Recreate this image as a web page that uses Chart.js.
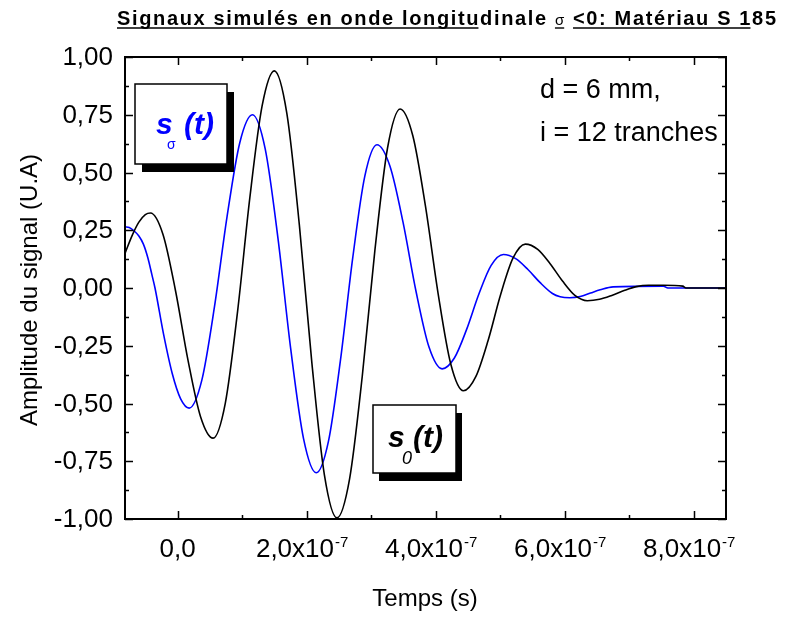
<!DOCTYPE html>
<html>
<head>
<meta charset="utf-8">
<script src="https://cdn.jsdelivr.net/npm/chart.js@4.4.1/dist/chart.umd.min.js"></script>
<style>
  html, body { margin: 0; padding: 0; background: #ffffff; }
  #wrap { width: 785px; height: 619px; }
</style>
</head>
<body>
<div id="wrap"><canvas id="c" width="785" height="619"></canvas></div>
<script>
// Temps en unités de 1e-7 s, amplitude en U.A.
const tempsS0 = [-0.815,-0.70,-0.60,-0.50,-0.42,-0.226,-0.032,0.162,0.356,0.55,0.74,0.93,1.12,1.31,1.50,1.694,1.888,2.082,2.276,2.47,2.666,2.862,3.058,3.254,3.45,3.646,3.842,4.038,4.234,4.43,4.622,4.814,5.006,5.198,5.39,5.582,5.774,5.966,6.158,6.35,6.54,6.73,6.92,7.11,7.30,7.53,7.83,7.88,8.50];
const signalS0 = [0.150,0.230,0.285,0.318,0.325,0.232,-0.012,-0.313,-0.557,-0.650,-0.498,-0.101,0.391,0.788,0.940,0.755,0.271,-0.326,-0.810,-0.995,-0.826,-0.383,0.163,0.606,0.775,0.659,0.354,-0.024,-0.329,-0.445,-0.384,-0.226,-0.029,0.129,0.190,0.167,0.105,0.030,-0.032,-0.055,-0.049,-0.032,-0.011,0.006,0.012,0.012,0.008,0.000,0.000];

const tempsSsigma = [-0.815,-0.75,-0.685,-0.60,-0.53,-0.46,-0.40,-0.35,-0.2175,-0.085,0.0475,0.18,0.376,0.572,0.768,0.964,1.16,1.358,1.556,1.754,1.952,2.15,2.338,2.526,2.714,2.902,3.09,3.292,3.494,3.696,3.898,4.10,4.29,4.48,4.67,4.86,5.05,5.24,5.43,5.62,5.81,5.93,6.08,6.24,6.40,6.55,6.75,7.53,7.60,8.50];
const signalSsigma = [0.265,0.262,0.250,0.225,0.190,0.130,0.060,0.000,-0.200,-0.368,-0.480,-0.520,-0.399,-0.081,0.311,0.629,0.750,0.602,0.215,-0.265,-0.652,-0.800,-0.664,-0.309,0.129,0.484,0.620,0.527,0.285,-0.015,-0.257,-0.350,-0.303,-0.179,-0.026,0.098,0.145,0.127,0.080,0.023,-0.024,-0.038,-0.042,-0.037,-0.022,-0.008,0.005,0.008,0.000,0.000];

// Graduations
const yTickValues = [-1, -0.75, -0.5, -0.25, 0, 0.25, 0.5, 0.75, 1];
const yTickLabels = ['-1,00', '-0,75', '-0,50', '-0,25', '0,00', '0,25', '0,50', '0,75', '1,00'];
const xTickValues = [0, 2e-7, 4e-7, 6e-7, 8e-7];
const xTickMantissas = ['0,0', '2,0', '4,0', '6,0', '8,0'];
const xTickExponents = ['', '-7', '-7', '-7', '-7'];

const X_MIN = -0.815e-7, X_MAX = 8.5e-7;
const FONT = '"Liberation Sans", Arial, Helvetica, sans-serif';

function toPoints(ts, vs) {
  return ts.map((t, i) => ({ x: t * 1e-7, y: vs[i] }));
}

function drawTitle(ctx) {
  const bold = 'bold 20px ' + FONT;
  const runs = [
    { t: 'Signaux simulés en onde longitu', u: true, f: bold },
    { t: 'dinale ', u: false, f: bold },
    { t: 'σ', u: true, f: '15px ' + FONT },
    { t: ' ', u: false, f: bold },
    { t: '<0: Matériau S 1', u: true, f: bold },
    { t: '85', u: false, f: bold }
  ];
  const x0 = 117, x1 = 776, base = 25;
  let natural = 0, n = 0;
  runs.forEach(r => { ctx.font = r.f; for (const ch of r.t) { natural += ctx.measureText(ch).width; n++; } });
  const sp = (x1 - x0 - natural) / (n - 1);
  let x = x0;
  ctx.fillStyle = '#000'; ctx.strokeStyle = '#000'; ctx.textAlign = 'left'; ctx.textBaseline = 'alphabetic';
  runs.forEach(r => {
    ctx.font = r.f;
    const start = x;
    let end = x;
    for (const ch of r.t) {
      ctx.fillText(ch, x, base);
      end = x + ctx.measureText(ch).width;
      x = end + sp;
    }
    if (r.u) {
      ctx.lineWidth = 1.4;
      ctx.beginPath(); ctx.moveTo(start, base + 3); ctx.lineTo(end, base + 3); ctx.stroke();
    }
  });
}

function drawBox(ctx, x, y, w, h, dx, dy) {
  ctx.fillStyle = '#000';
  ctx.fillRect(x + dx, y + dy, w, h);
  ctx.fillStyle = '#fff';
  ctx.fillRect(x, y, w, h);
  ctx.strokeStyle = '#000'; ctx.lineWidth = 1.5;
  ctx.strokeRect(x, y, w, h);
}

const framePlugin = {
  id: 'frame',
  afterDatasetsDraw(chart) {
    const ctx = chart.ctx;
    const xs = chart.scales.x, ys = chart.scales.y;
    const a = chart.chartArea;
    ctx.save();

    // cadre
    ctx.strokeStyle = '#000'; ctx.lineWidth = 2;
    ctx.strokeRect(a.left, a.top, a.right - a.left, a.bottom - a.top);

    // graduations intérieures sur les quatre côtés
    ctx.lineWidth = 1.5;
    ctx.beginPath();
    for (let v = -1; v <= 1.0001; v += 0.125) {
      const major = Math.abs(v * 4 - Math.round(v * 4)) < 1e-6;
      const len = major ? 8 : 4;
      const py = Math.round(ys.getPixelForValue(v)) + 0.5;
      ctx.moveTo(a.left, py); ctx.lineTo(a.left + len, py);
      ctx.moveTo(a.right, py); ctx.lineTo(a.right - len, py);
    }
    for (let k = 0; k <= 8; k++) {
      const v = k * 1e-7;
      const len = (k % 2 === 0) ? 8 : 4;
      const px = Math.round(xs.getPixelForValue(v)) + 0.5;
      ctx.moveTo(px, a.bottom); ctx.lineTo(px, a.bottom - len);
      ctx.moveTo(px, a.top); ctx.lineTo(px, a.top + len);
    }
    ctx.stroke();

    // étiquettes de l'axe Y
    ctx.fillStyle = '#000';
    ctx.font = '26px ' + FONT;
    ctx.textAlign = 'right'; ctx.textBaseline = 'middle';
    yTickValues.forEach((v, i) => {
      ctx.fillText(yTickLabels[i], a.left - 12, ys.getPixelForValue(v) + 1);
    });

    // étiquettes de l'axe X (avec exposant)
    ctx.textBaseline = 'alphabetic'; ctx.textAlign = 'left';
    xTickValues.forEach((v, i) => {
      const main = xTickMantissas[i] + (xTickExponents[i] ? 'x10' : '');
      ctx.font = '26px ' + FONT;
      const wMain = ctx.measureText(main).width;
      ctx.font = '15px ' + FONT;
      const wExp = xTickExponents[i] ? ctx.measureText(xTickExponents[i]).width : 0;
      const shift = xTickExponents[i] ? -5 : 0;
      const x0 = xs.getPixelForValue(v) - (wMain + wExp) / 2 + shift;
      ctx.font = '26px ' + FONT;
      ctx.fillText(main, x0, 557);
      if (wExp) { ctx.font = '15px ' + FONT; ctx.fillText(xTickExponents[i], x0 + wMain + 1, 547); }
    });

    // titres des axes
    ctx.font = '24px ' + FONT;
    ctx.textAlign = 'center';
    ctx.fillText('Temps (s)', 425, 606);
    ctx.save();
    ctx.translate(37, 290);
    ctx.rotate(-Math.PI / 2);
    ctx.fillText('Amplitude du signal (U.A)', 0, 0);
    ctx.restore();

    // paramètres de simulation
    ctx.textAlign = 'left';
    ctx.font = '27px ' + FONT;
    ctx.fillText('d = 6 mm,', 540, 98);
    ctx.fillText('i = 12 tranches', 540, 141);

    // étiquette du signal s_sigma(t)
    drawBox(ctx, 135, 84, 92, 80, 7, 8);
    ctx.fillStyle = '#0000ff';
    ctx.font = 'italic bold 30px ' + FONT;
    ctx.fillText('s', 156, 134);
    ctx.fillText('(t)', 184, 134);
    ctx.font = '14px ' + FONT;
    ctx.fillText('σ', 167, 149);

    // étiquette du signal s_0(t)
    drawBox(ctx, 373, 405, 83, 68, 6, 8);
    ctx.fillStyle = '#000';
    ctx.font = 'italic bold 30px ' + FONT;
    ctx.fillText('s', 388, 447);
    ctx.fillText('(t)', 413, 447);
    ctx.font = 'italic 18px ' + FONT;
    ctx.fillText('0', 402, 464);

    drawTitle(ctx);
    ctx.restore();
  }
};

new Chart(document.getElementById('c'), {
  type: 'line',
  data: {
    datasets: [
      {
        label: 's0(t)',
        data: toPoints(tempsS0, signalS0),
        borderColor: '#000000',
        borderWidth: 1.6,
        pointRadius: 0,
        cubicInterpolationMode: 'monotone',
        fill: false
      },
      {
        label: 'sσ(t)',
        data: toPoints(tempsSsigma, signalSsigma),
        borderColor: '#0000ff',
        borderWidth: 1.6,
        pointRadius: 0,
        cubicInterpolationMode: 'monotone',
        fill: false
      }
    ]
  },
  options: {
    responsive: false,
    animation: false,
    devicePixelRatio: 1,
    layout: { padding: { left: 125, right: 59, top: 57, bottom: 100 } },
    plugins: { legend: { display: false }, tooltip: { enabled: false }, title: { display: false } },
    scales: {
      x: { type: 'linear', min: X_MIN, max: X_MAX, display: false },
      y: { type: 'linear', min: -1, max: 1, display: false }
    }
  },
  plugins: [framePlugin]
});
</script>
</body>
</html>
